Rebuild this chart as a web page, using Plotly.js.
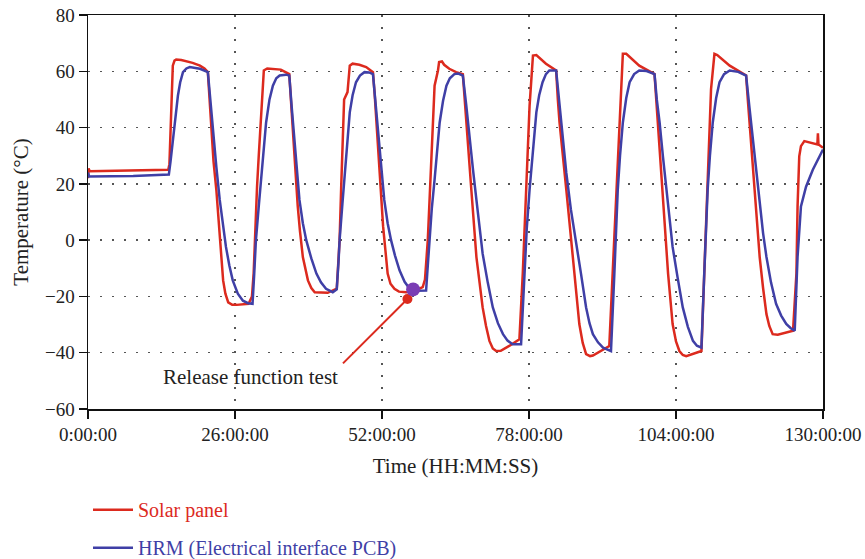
<!DOCTYPE html>
<html>
<head>
<meta charset="utf-8">
<script src="https://cdn.plot.ly/plotly-3.0.1.min.js"></script>
<style>html,body{margin:0;padding:0;background:#fff;}#chart{width:865px;height:559px;}</style>
</head>
<body>
<div id="chart"></div>
<script>
// Time in hours, temperature in °C
const solarHours = [0, 0.1, 0.3, 8, 14.2, 14.4, 14.7, 15.0, 15.3, 15.6, 16.5, 18.5, 19.8, 20.6, 21.2,
  21.5, 21.8, 22.2, 22.7, 23.3, 23.9, 24.3, 24.8, 25.5, 26.3, 28.4, 29.0,
  29.3, 29.6, 29.9, 30.2, 30.5, 30.8, 31.1, 31.7, 34.1, 35.6,
  35.9, 36.2, 36.6, 37.1, 37.5, 38.0, 38.9, 39.5, 40.1, 42.4, 44.0,
  44.3, 44.5, 44.8, 45.1, 45.3, 45.9, 46.1, 46.3, 46.8, 48.0, 49.2, 50.4,
  50.7, 51.0, 51.6, 52.2, 53.0, 53.5, 54.2, 55.0, 56.3, 58.0, 59.2, 59.6,
  60.1, 60.7, 61.3, 61.9, 62.1, 62.6, 63.0, 63.9, 65.1, 66.3,
  66.6, 66.9, 67.8, 68.7, 69.2, 69.8, 70.4, 71.0, 71.6, 72.2, 73.0, 74.5, 76.3,
  76.9, 77.5, 78.1, 78.7, 79.3, 81.0, 82.8,
  83.1, 83.4, 84.6, 85.7, 86.3, 86.9, 87.5, 88.1, 88.8, 89.3, 92.2,
  92.8, 93.4, 94.0, 94.3, 94.6, 95.2, 97.5, 100.2,
  100.5, 100.8, 101.7, 102.6, 103.4, 104.0, 104.6, 105.2, 105.8, 107.0, 108.5,
  109.0, 109.6, 110.2, 110.8, 111.3, 113.5, 116.4,
  116.7, 117.0, 117.9, 118.8, 119.4, 120.0, 120.5, 121.1, 122.0, 124.7,
  125.3, 125.5, 125.8, 126.1, 126.7, 128.8, 129.0, 129.1, 129.2, 130];
const solarTemp = [22, 25.5, 24.5, 24.8, 25, 27, 47.8, 62, 63.8, 64.2, 64, 63, 62, 61, 59.7,
  50, 39.4, 28, 17.9, 0, -14.3, -19, -22.1, -23, -23, -22.6, -20,
  -11.8, 5, 19, 30, 41.8, 52, 60.3, 61, 60.6, 59,
  50, 40.6, 26, 12, 3, -6, -14.3, -17, -18.5, -18.7, -17.2,
  -8, 0, 20, 37, 50, 52.6, 58, 62, 62.7, 62.3, 61.5, 59.7,
  52, 43, 21.5, 4.8, -11.9, -15.5, -17.3, -18.3, -18.5, -17.8, -16.7, -14,
  0, 29.8, 54.9, 60.3, 63.3, 63.5, 62.3, 60.9, 59.7, 59,
  50, 41.8, 17.9, -6, -15, -23.9, -30.5, -35.8, -38.5, -39.4, -39.3, -37.6, -35.2,
  -11.8, 17.9, 47.7, 65.6, 65.8, 62.7, 60.3,
  50, 41.8, 17.9, -6, -18, -29.8, -36.5, -40.5, -41.2, -41, -37.6,
  -11.8, 17.9, 41.8, 55, 66.2, 66.2, 62, 59,
  50, 41.8, 12, -11.9, -29.8, -36, -39.4, -40.8, -41.2, -40.5, -39.4,
  -11.8, 23.9, 53.7, 66.2, 65.8, 62, 58.5,
  50, 41.8, 17.9, -6, -17, -26.3, -30.5, -33.4, -33.6, -32.2,
  -11.8, 12, 29.8, 33.4, 35.2, 34, 34, 38, 34, 32.8];

const hrmHours = [0, 0.2, 8, 14.3, 14.6, 15.0, 15.4, 15.9, 16.3, 16.8, 17.4, 18.0, 19.0, 19.8, 21.2,
  21.6, 22.1, 22.7, 23.3, 24.4, 25.0, 25.6, 26.5, 27.4, 28.3, 29.1,
  29.4, 29.7, 30.2, 30.6, 31.0, 31.5, 32.1, 32.7, 33.3, 33.9, 35.0, 35.6,
  36.0, 36.5, 37.0, 37.4, 38.0, 38.6, 39.5, 40.4, 41.2, 42.1, 43.3, 44.0,
  44.3, 44.5, 45.0, 45.4, 45.8, 46.3, 46.8, 47.4, 48.1, 48.9, 49.7, 50.4,
  50.8, 51.3, 51.8, 52.4, 53.0, 53.6, 54.3, 55.1, 56.0, 56.9, 58.0, 59.8,
  60.1, 60.4, 60.8, 61.3, 61.7, 62.2, 62.8, 63.4, 64.0, 64.8, 65.5, 66.3,
  66.9, 67.5, 68.1, 68.7, 69.2, 69.8, 70.7, 71.6, 72.5, 73.4, 74.2, 75.1, 76.6,
  77.2, 77.6, 78.1, 78.7, 79.3, 79.8, 80.4, 81.0, 81.6, 82.8,
  83.4, 84.0, 84.6, 85.4, 86.3, 87.2, 88.1, 88.7, 89.3, 90.2, 91.1, 92.5,
  93.1, 93.7, 94.1, 94.6, 95.2, 95.8, 96.6, 97.5, 98.8, 100.2,
  100.6, 101.1, 101.7, 102.3, 102.8, 103.4, 104.3, 105.2, 106.1, 107.0, 107.7, 108.5,
  109.0, 109.6, 110.0, 110.5, 111.1, 111.7, 112.5, 113.5, 115.0, 116.4,
  117.0, 117.6, 118.2, 118.8, 119.4, 120.0, 120.8, 121.7, 122.6, 123.5, 124.3, 125.0,
  125.5, 126.1, 127.0, 128.2, 129.4, 130];
const hrmTemp = [24, 22.6, 22.8, 23.3, 28, 35.8, 44, 51.3, 56, 59.7, 61, 61.5, 61.2, 60.9, 59.7,
  50, 38.2, 26, 14.3, -2.4, -9, -14.3, -19, -21.5, -22.4, -22.6,
  -12, 0, 12, 21.5, 31, 41.8, 50, 54.9, 57.5, 58.5, 58.8, 58.5,
  48, 35.8, 24, 14.3, 6, 0, -6.5, -11.9, -15, -17.3, -18.5, -17.5,
  -8, 0, 13, 23.9, 35, 45.4, 51.5, 56.1, 58.5, 59.7, 59.6, 59,
  50, 38.2, 26, 14.3, 6, 0, -5.5, -10.7, -14.8, -17.3, -18, -17.9,
  -9, 0, 11, 21.5, 31, 41.8, 49.5, 54.9, 57.5, 59, 59.2, 58.5,
  48, 35.8, 25, 14.3, 4.5, -4.8, -15, -23.9, -29.5, -33.4, -35.7, -37, -37,
  -11.8, 4, 17.9, 33, 45.4, 51.5, 56.1, 59, 60.3, 60.3,
  47.7, 35.5, 23.9, 11, 0, -12, -23.9, -29.5, -33.4, -36.3, -38.2, -39.4,
  -11.8, 17.9, 30, 41.8, 50.5, 56.1, 59, 60.3, 60.1, 59,
  50, 41.8, 29.5, 17.9, 7.5, -2.4, -13.5, -23.9, -30.8, -35.8, -37.5, -38.2,
  -11.8, 17.9, 30, 41.8, 50.5, 56.1, 59, 60.3, 59.8, 58.5,
  47, 35.8, 23.5, 12, 2.5, -6, -15, -22.6, -26.8, -29.8, -31.3, -32.2,
  -6, 12, 19, 25, 29.8, 32.2];

// Release function test callout
const calloutHours = [45.1, 56.5];
const calloutTemp = [-43.8, -20.9];
const releaseRedPoint = [56.5, -20.9];
const releasePurplePoint = [57.5, -17.5];
const calloutLabel = "Release function test";
const calloutLabelPos = [28.7, -48.8];

const xTickVals = [0, 26, 52, 78, 104, 130];
const xTickText = ["0:00:00", "26:00:00", "52:00:00", "78:00:00", "104:00:00", "130:00:00"];
const yTickVals = [-60, -40, -20, 0, 20, 40, 60, 80];

const seriesNames = ["Solar panel", "HRM (Electrical interface PCB)"];
const red = "#dc2a1e";
const blue = "#3f3fa6";
const purple = "#7a3db4";
const serif = "Liberation Serif, Times New Roman, serif";

const traces = [
  {x: solarHours, y: solarTemp, type: "scatter", mode: "lines", name: '<span style="color:' + red + '">' + seriesNames[0] + '</span>', line: {color: red, width: 2.5}, legendgroup: "a"},
  {x: hrmHours, y: hrmTemp, type: "scatter", mode: "lines", name: '<span style="color:' + blue + '">' + seriesNames[1] + '</span>', line: {color: blue, width: 2.5}, legendgroup: "b"},
  {x: calloutHours, y: calloutTemp, type: "scatter", mode: "lines", line: {color: red, width: 2}, showlegend: false, hoverinfo: "skip"},
  {x: [releaseRedPoint[0]], y: [releaseRedPoint[1]], type: "scatter", mode: "markers", marker: {color: red, size: 10}, showlegend: false},
  {x: [releasePurplePoint[0]], y: [releasePurplePoint[1]], type: "scatter", mode: "markers", marker: {color: purple, size: 14}, showlegend: false}
];

const layout = {
  width: 865, height: 559,
  margin: {l: 88, r: 42, t: 15, b: 150, autoexpand: false},
  paper_bgcolor: "#fff", plot_bgcolor: "#fff",
  font: {family: serif, size: 19, color: "#222"},
  showlegend: true,
  legend: {x: 0, xanchor: "left", y: -0.206, yanchor: "top", orientation: "v", traceorder: "grouped", tracegroupgap: 9, itemwidth: 40, bgcolor: "rgba(0,0,0,0)", font: {family: serif, size: 20}},
  xaxis: {
    range: [0, 130], tickvals: xTickVals, ticktext: xTickText,
    showline: true, mirror: true, linecolor: "#111", linewidth: 1.5,
    ticks: "outside", ticklen: 8, tickcolor: "#111", tickwidth: 1.5,
    showgrid: true, gridcolor: "#555", gridwidth: 1.5, griddash: "2px,10px",
    zeroline: false,
    title: {text: "Time (HH:MM:SS)", font: {family: serif, size: 21}, standoff: 14},
    tickfont: {family: serif, size: 19}
  },
  yaxis: {
    range: [-60, 80], tickvals: yTickVals,
    showline: true, mirror: true, linecolor: "#111", linewidth: 1.5,
    ticks: "outside", ticklen: 8, tickcolor: "#111", tickwidth: 1.5,
    showgrid: true, gridcolor: "#555", gridwidth: 1.5, griddash: "2px,10px",
    zeroline: false,
    title: {text: "Temperature (°C)", font: {family: serif, size: 21}, standoff: 10},
    tickfont: {family: serif, size: 19}
  },
  annotations: [
    {x: calloutLabelPos[0], y: calloutLabelPos[1], xref: "x", yref: "y", text: calloutLabel, showarrow: false, font: {family: serif, size: 21, color: "#222"}}
  ]
};

Plotly.newPlot("chart", traces, layout, {displayModeBar: false, staticPlot: true});
</script>
</body>
</html>
